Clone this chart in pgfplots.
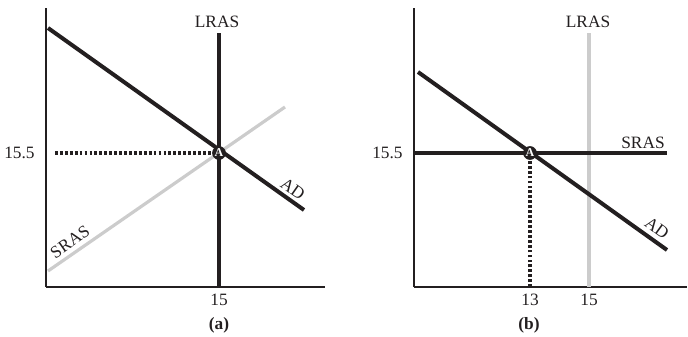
\documentclass[border=0pt]{standalone}
\usepackage{fontspec}
\setmainfont{Liberation Serif}
\usepackage{pgfplots}
\pgfplotsset{compat=1.18}
\definecolor{ink}{HTML}{231F20}
\definecolor{lgray}{HTML}{CCCCCC}
\tikzset{
  curve/.style={ink, line width=3pt, line cap=butt},
  glight/.style={lgray, line width=2.4pt, line cap=butt},
  dots/.style={ink, line width=2.3pt, dash pattern=on 2.1pt off 1.6pt},
  lab/.style={font=\fontsize{13}{15}\selectfont, text=ink},
  amark/.style={text=white, font=\fontsize{9}{9}\selectfont\bfseries, inner sep=0pt},
}
\pgfplotsset{econ/.style={
  x=0.75pt, y=0.75pt, xmin=0, ymin=0, ymax=279,
  axis lines=left, axis line style={-, ink, line width=1.1pt},
  major tick length=0pt, clip=false,
  tick label style={font=\fontsize{13}{15}\selectfont, text=ink},
  /pgf/number format/assume math mode=true,
  xticklabel style={yshift=-1.5pt},
  yticklabel style={xshift=-5pt},
}}
\begin{document}
\begin{tikzpicture}
\useasboundingbox (0,0) rectangle (516pt,252pt);
% Panel (a)
\begin{axis}[econ, at={(34.5pt,36.75pt)}, anchor=south west, xmax=279,
  xtick={173}, xticklabels={15}, ytick={134}, yticklabels={15.5}]
\addplot[glight] coordinates {(2,16) (239,180)};
\addplot[curve] coordinates {(173,0) (173,254)};
\addplot[curve] coordinates {(2,259) (258,77)};
\addplot[dots] coordinates {(9,134) (168,134)};
\addplot[only marks, mark=*, mark size=4.9pt, ink] coordinates {(173,134)};
\coordinate (Aa) at (axis cs:173,134);
\node[lab] at (axis cs:171,265) {LRAS};
\node[lab, rotate=-35] at (axis cs:247,98) {AD};
\node[lab, rotate=35] at (axis cs:24,45) {SRAS};
\node[font=\fontsize{13}{15}\selectfont\bfseries, text=ink] at (axis cs:173,-38) {(a)};
\end{axis}
\node[amark] at (Aa) {A};
% Panel (b)
\begin{axis}[econ, at={(310.5pt,36.75pt)}, anchor=south west, xmax=273,
  xtick={116,175}, xticklabels={13,15}, ytick={134}, yticklabels={15.5}]
\addplot[glight] coordinates {(175,0) (175,254)};
\addplot[curve] coordinates {(0,134) (253,134)};
\addplot[curve] coordinates {(4,215) (253,37)};
\addplot[dots] coordinates {(116,0) (116,128)};
\addplot[only marks, mark=*, mark size=4.9pt, ink] coordinates {(116,134)};
\coordinate (Ab) at (axis cs:116,134);
\node[lab] at (axis cs:174,265) {LRAS};
\node[lab] at (axis cs:229,144) {SRAS};
\node[lab, rotate=-36] at (axis cs:243,59) {AD};
\node[font=\fontsize{13}{15}\selectfont\bfseries, text=ink] at (axis cs:115,-38) {(b)};
\end{axis}
\node[amark] at (Ab) {A};
\end{tikzpicture}
\end{document}
